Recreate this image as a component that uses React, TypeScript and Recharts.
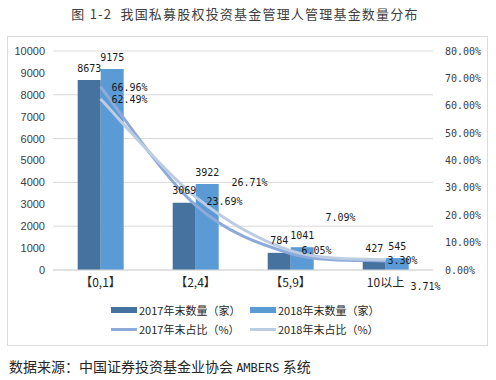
import { Bar, CartesianGrid, ComposedChart, LabelList, Line, XAxis, YAxis } from 'recharts';

const categories = ['【0,1】', '【2,4】', '【5,9】', '10以上'];
const count2017 = [8673, 3069, 784, 427];
const count2018 = [9175, 3922, 1041, 545];
const share2017 = [66.96, 23.69, 6.05, 3.3];
const share2018 = [62.49, 26.71, 7.09, 3.71];
const leftTicks = [0, 1000, 2000, 3000, 4000, 5000, 6000, 7000, 8000, 9000, 10000];
const rightTicks = [0, 10, 20, 30, 40, 50, 60, 70, 80];
const seriesNames = ['2017年末数量（家）', '2018年末数量（家）', '2017年末占比（%）', '2018年末占比（%）'];

const colors = ['#46729f', '#5b9bd5', '#8eaadb', '#bccce2'];

// label nudges, as Excel left them
const line17Offset = [[11, 1], [11, -4], [11, -3], [2, 0]];
const line18Offset = [[11, 1], [36, -14], [35, -33], [25, 27]];

const data = categories.map((name, i) => ({
  name,
  c17: count2017[i],
  c18: count2018[i],
  s17: share2017[i],
  s18: share2018[i],
}));

const numFont = '"DejaVu Sans Mono", "Liberation Mono", monospace';
const cjkFont = '"Noto Sans CJK SC", sans-serif';

const pct = (v: number) => `${v.toFixed(2)}%`;

// Excel-like smoothed line (Catmull-Rom through the points)
const smoothCurve = (ctx: any) => {
  let pts: number[][] = [];
  return {
    areaStart() {},
    areaEnd() {},
    lineStart() {
      pts = [];
    },
    point(x: number, y: number) {
      pts.push([+x, +y]);
    },
    lineEnd() {
      if (!pts.length) return;
      ctx.moveTo(pts[0][0], pts[0][1]);
      for (let i = 0; i < pts.length - 1; i++) {
        const p0 = pts[i - 1] || pts[i];
        const p1 = pts[i];
        const p2 = pts[i + 1];
        const p3 = pts[i + 2] || p2;
        ctx.bezierCurveTo(
          p1[0] + (p2[0] - p0[0]) / 6,
          p1[1] + (p2[1] - p0[1]) / 6,
          p2[0] - (p3[0] - p1[0]) / 6,
          p2[1] - (p3[1] - p1[1]) / 6,
          p2[0],
          p2[1],
        );
      }
    },
  };
};

const barLabel = (props: any) => {
  const { x, y, width, value } = props;
  return (
    <text x={x + width / 2} y={y - 12} textAnchor="middle" dominantBaseline="central" fontSize={10} fontFamily={numFont} fill="#1a1a1a">
      {value}
    </text>
  );
};

const lineLabel = (offsets: number[][]) => (props: any) => {
  const { x, y, value, index } = props;
  const [dx, dy] = offsets[index] || [0, 0];
  return (
    <text x={x + dx} y={y + dy} textAnchor="start" dominantBaseline="central" fontSize={10} fontFamily={numFont} fill="#1a1a1a">
      {pct(value)}
    </text>
  );
};

function LegendItem({ name, color, kind }: { name: string; color: string; kind: 'bar' | 'line' }) {
  return (
    <div style={{ display: 'flex', alignItems: 'center', width: 139 }}>
      <div style={{ width: 26, height: kind === 'bar' ? 6 : 3, background: color, marginRight: 2 }} />
      <span style={{ fontSize: 11, fontFamily: cjkFont, color: '#262626', whiteSpace: 'nowrap' }}>{name}</span>
    </div>
  );
}

export default function App() {
  return (
    <div style={{ position: 'absolute', left: 0, top: 0, width: 496, height: 380, background: '#fff' }}>
      <div style={{ position: 'absolute', left: 0, top: 4, width: 490, textAlign: 'center', fontSize: 13, letterSpacing: 1.2, fontFamily: cjkFont, color: '#404040' }}>
        图 1-2&nbsp; 我国私募股权投资基金管理人管理基金数量分布
      </div>
      <div style={{ position: 'absolute', left: 7, top: 36, width: 479, height: 308, border: '1px solid #dcdcdc' }} />
      <div style={{ position: 'absolute', left: 7, top: 36 }}>
        <ComposedChart width={480} height={309} data={data} margin={{ top: 15, right: 0, bottom: 45, left: 0 }} barGap={0} barCategoryGap="26%">
          <CartesianGrid yAxisId="left" vertical={false} stroke="#d9d9d9" />
          <XAxis
            dataKey="name"
            height={30}
            axisLine={{ stroke: '#d9d9d9' }}
            tickLine={false}
            tick={{ fontSize: 12, fontFamily: cjkFont, fill: '#262626' }}
          />
          <YAxis
            yAxisId="left"
            width={46}
            domain={[0, 10000]}
            ticks={leftTicks}
            axisLine={false}
            tickLine={false}
            tick={{ fontSize: 11, fontFamily: '"Liberation Sans", Arial, sans-serif', fill: '#404040' }}
          />
          <YAxis
            yAxisId="right"
            orientation="right"
            width={54}
            domain={[0, 80]}
            ticks={rightTicks}
            tickFormatter={pct}
            axisLine={false}
            tickLine={false}
            tick={{ fontSize: 10, fontFamily: numFont, fill: '#404040', textAnchor: 'start', dx: 4 }}
          />
          <Bar yAxisId="left" dataKey="c17" name={seriesNames[0]} fill={colors[0]} isAnimationActive={false}>
            <LabelList dataKey="c17" content={barLabel} />
          </Bar>
          <Bar yAxisId="left" dataKey="c18" name={seriesNames[1]} fill={colors[1]} isAnimationActive={false}>
            <LabelList dataKey="c18" content={barLabel} />
          </Bar>
          <Line yAxisId="right" type={smoothCurve as any} dataKey="s17" name={seriesNames[2]} stroke={colors[2]} strokeWidth={3} dot={false} isAnimationActive={false}>
            <LabelList dataKey="s17" content={lineLabel(line17Offset)} />
          </Line>
          <Line yAxisId="right" type={smoothCurve as any} dataKey="s18" name={seriesNames[3]} stroke={colors[3]} strokeWidth={3} dot={false} isAnimationActive={false}>
            <LabelList dataKey="s18" content={lineLabel(line18Offset)} />
          </Line>
        </ComposedChart>
      </div>
      <div style={{ position: 'absolute', left: 111, top: 302, display: 'flex' }}>
        <LegendItem name={seriesNames[0]} color={colors[0]} kind="bar" />
        <LegendItem name={seriesNames[1]} color={colors[1]} kind="bar" />
      </div>
      <div style={{ position: 'absolute', left: 111, top: 321, display: 'flex' }}>
        <LegendItem name={seriesNames[2]} color={colors[2]} kind="line" />
        <LegendItem name={seriesNames[3]} color={colors[3]} kind="line" />
      </div>
      <div style={{ position: 'absolute', left: 9, top: 356, fontSize: 14, fontFamily: cjkFont, color: '#262626', whiteSpace: 'nowrap' }}>
        数据来源：中国证券投资基金业协会 <span style={{ fontFamily: numFont, fontSize: 12 }}>AMBERS</span> 系统
      </div>
    </div>
  );
}
